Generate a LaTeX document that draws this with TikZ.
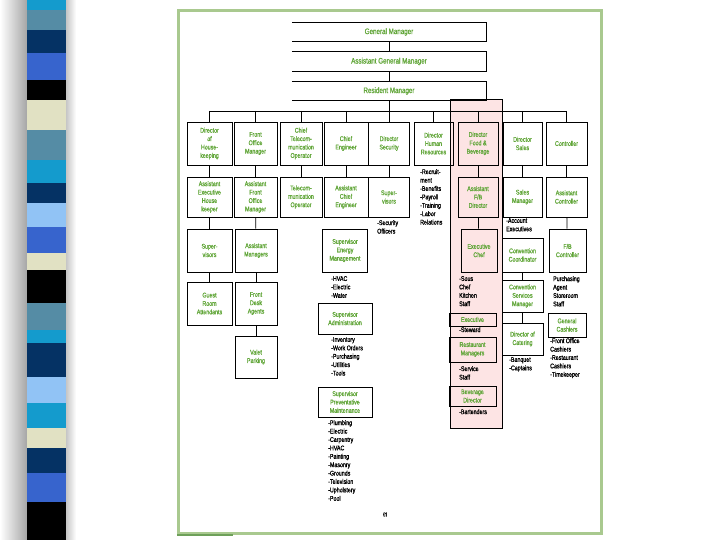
\documentclass[tikz,border=0pt]{standalone}
\usepackage{fontspec}
\newfontfamily\orgfont[FakeStretch=0.78, FakeBold=1.2]{Liberation Sans}
\usetikzlibrary{calc}
\definecolor{boxgreen}{RGB}{98,166,58}
\definecolor{framegreen}{RGB}{169,201,143}
\definecolor{darkframe}{RGB}{110,160,90}
\definecolor{fbpink}{RGB}{253,228,228}
\definecolor{sCyan}{RGB}{20,155,205}
\definecolor{sSteel}{RGB}{85,140,165}
\definecolor{sNavy}{RGB}{5,50,100}
\definecolor{sRoyal}{RGB}{55,100,205}
\definecolor{sCream}{RGB}{225,225,195}
\definecolor{sLight}{RGB}{145,195,245}

\begin{document}
\begin{tikzpicture}[
    x=1pt, y=-1pt,
    post/.style={draw, line width=0.9pt, text=boxgreen, align=center, inner sep=1pt,
                 font=\orgfont\fontsize{6.8}{8.4}\selectfont},
    toppost/.style={text=boxgreen, inner sep=1pt, font=\orgfont\fontsize{8}{9}\selectfont},
    duties/.style={anchor=north west, align=left, inner sep=0pt,
                   font=\orgfont\fontsize{6.8}{8.4}\selectfont},
    link/.style={line width=0.8pt}
]
\useasboundingbox (0,0) rectangle (720,540);

% side strip of the slide
\shade[left color=white, right color=gray!70] (0,0) rectangle (27,540);
\shade[left color=gray!45, right color=white] (66,0) rectangle (76,540);
\foreach \ya/\yb/\c in {0/10/sCyan, 10/30/sSteel, 30/53/sNavy, 53/80/sRoyal, 80/100/black,
    100/130/sCream, 130/160/sSteel, 160/183/sCyan, 183/203/sNavy, 203/227/sLight,
    227/253/sRoyal, 253/270/sCream, 270/303/black, 303/330/sSteel, 330/343/sCyan,
    343/377/sNavy, 377/403/sLight, 403/428/sCyan, 428/448/sCream, 448/473/sNavy,
    473/502/sRoyal, 502/540/black}
  \fill[\c] (27,\ya) rectangle (66,\yb);

\draw[framegreen, line width=3pt] (178,11) rectangle (601,533);
\draw[darkframe, line width=1.2pt] (177,535) -- (233,535);

% food & beverage column
\draw[fill=fbpink, line width=0.9pt] (450,99) rectangle (502,428);

% top management (boxes open on the left)
\node[toppost, minimum width=194pt, minimum height=18pt] (gm) at (389,32) {General Manager};
\node[toppost, minimum width=194pt, minimum height=19pt] (agm) at (389,61.5) {Assistant General Manager};
\node[toppost, minimum width=194pt, minimum height=18pt] (rm) at (389,91) {Resident Manager};
\foreach \n in {gm,agm,rm}
  \draw[line width=0.9pt] (\n.north west) -- (\n.north east) -- (\n.south east) -- (\n.south west);

% department heads
\node[post, minimum width=45pt, minimum height=43pt] (hk) at (209.5,143.5) {Director\\of\\House-\\keeping};
\node[post, minimum width=43pt, minimum height=43pt] (fom) at (255.5,143.5) {Front\\Office\\Manager};
\node[post, minimum width=42pt, minimum height=43pt] (cto) at (301,143.5) {Chief\\Telecom-\\munication\\Operator};
\node[post, minimum width=44pt, minimum height=43pt] (ce) at (346,143.5) {Chief\\Engineer};
\node[post, minimum width=41pt, minimum height=43pt] (ds) at (389,143.5) {Director\\Security};
\node[post, minimum width=39pt, minimum height=43pt] (hr) at (433.5,143.5) {Director\\Human\\Resources};
\node[post, minimum width=40pt, minimum height=43pt] (fb) at (478,143.5) {Director\\Food \&\\Beverage};
\node[post, minimum width=39pt, minimum height=43pt] (sales) at (522.5,143.5) {Director\\Sales};
\node[post, minimum width=41pt, minimum height=43pt] (ctrl) at (566.5,143.5) {Controller};

% assistants
\node[post, minimum width=45pt, minimum height=40pt] (aeh) at (209.5,197) {Assistant\\Executive\\House\\keeper};
\node[post, minimum width=43pt, minimum height=40pt] (afom) at (255.5,197) {Assistant\\Front\\Office\\Manager};
\node[post, minimum width=42pt, minimum height=40pt] (tele) at (301,197) {Telecom-\\munication\\Operator};
\node[post, minimum width=44pt, minimum height=40pt] (ace) at (346,197) {Assistant\\Chief\\Engineer};
\node[post, minimum width=41pt, minimum height=40pt] (sup) at (389,197) {Super-\\visors};
\node[post, minimum width=40pt, minimum height=40pt] (afb) at (478,197) {Assistant\\F/B\\Director};
\node[post, minimum width=39pt, minimum height=40pt] (sm) at (522.5,197) {Sales\\Manager};
\node[post, minimum width=41pt, minimum height=40pt] (actrl) at (566.5,197) {Assistant\\Controller};

% third level
\node[post, minimum width=45pt, minimum height=43pt] (hsup) at (209.5,250.5) {Super-\\visors};
\node[post, minimum width=42pt, minimum height=43pt] (am) at (256,250.5) {Assistant\\Managers};
\node[post, minimum width=45pt, minimum height=43pt] (sem) at (345,250.5) {Supervisor\\Energy\\Management};
\node[post, minimum width=36pt, minimum height=43pt] (ec) at (479,250.5) {Executive\\Chef};
\node[post, minimum width=41pt, minimum height=34pt] (ccoord) at (522.5,255) {Convention\\Coordinator};
\node[post, minimum width=37pt, minimum height=43pt] (fbc) at (567.5,250.5) {F/B\\Controller};

% lower level
\node[post, minimum width=45pt, minimum height=43pt] (gra) at (209.5,303.5) {Guest\\Room\\Attendants};
\node[post, minimum width=42pt, minimum height=43pt] (fda) at (256,303.5) {Front\\Desk\\Agents};
\node[post, minimum width=42pt, minimum height=42pt] (valet) at (256,357) {Valet\\Parking};
\node[post, minimum width=54pt, minimum height=31pt] (sadm) at (345,318.5) {Supervisor\\Administration};
\node[post, minimum width=54pt, minimum height=30pt] (spm) at (345,402) {Supervisor\\Preventative\\Maintenance};
\node[post, minimum width=41pt, minimum height=32pt] (csm) at (522.5,296) {Convention\\Services\\Manager};
\node[post, minimum width=41pt, minimum height=32pt] (doc) at (522.5,339) {Director of\\Catering};
\node[post, minimum width=47pt, minimum height=13pt] (exst) at (472.5,319.5) {Executive};
\node[post, minimum width=47pt, minimum height=25pt] (rmgr) at (472.5,349.5) {Restaurant\\Managers};
\node[post, minimum width=47pt, minimum height=20pt] (bevd) at (472.5,396) {Beverage\\Director};
\node[post, minimum width=38pt, minimum height=24pt] (gc) at (567,325) {General\\Cashiers};

% duty lists
\node[duties] (hrlist) at (420,169) {-Recruit-\\ment\\-Benefits\\-Payroll\\-Training\\-Labor\\Relations};
\node[duties] (seclist) at (377,220) {-Security\\Officers};
\node[duties] (saleslist) at (506,218) {-Account\\Executives};
\node[duties] (semlist) at (331,276) {-HVAC\\-Electric\\-Water};
\node[duties] (admlist) at (331,337) {-Inventory\\-Work Orders\\-Purchasing\\-Utilities\\-Tools};
\node[duties] (pmlist) at (328,420) {-Plumbing\\-Electric\\-Carpentry\\-HVAC\\-Painting\\-Masonry\\-Grounds\\-Television\\-Upholstery\\-Pool};
\node[duties] (chefl) at (459,276) {-Sous\\Chef\\Kitchen\\Staff};
\node[duties] (stewl) at (459,327) {-Steward};
\node[duties] (servl) at (459,366) {-Service\\Staff};
\node[duties] (barl) at (459,409) {-Bartenders};
\node[duties] (catl) at (509,357) {-Banquet\\-Captains};
\node[duties] (fbcl) at (553,276) {Purchasing\\Agent\\Storeroom\\Staff};
\node[duties] (gcl) at (550,338) {-Front Office\\Cashiers\\-Restaurant\\Cashiers\\-Timekeeper};
\node[duties, font=\orgfont\fontsize{5}{6}\selectfont] (pg) at (383,512) {(r)};

% connectors
\coordinate (bus) at (389,111);
\draw[link] (gm) -- (agm);
\draw[link] (agm) -- (rm);
\draw[link] (rm) -- (ds);
\draw[link] (hk.north |- bus) -- (ctrl.north |- bus);
\foreach \n in {hk,fom,cto,ce,hr,fb,sales,ctrl}
  \draw[link] (\n.north |- bus) -- (\n.north);
\foreach \a/\b in {hk/aeh, fom/afom, cto/tele, ce/ace, ds/sup, fb/afb, sales/sm, ctrl/actrl,
    aeh/hsup, afom/am, afb/ec, actrl/fbc, hsup/gra, am/fda, fda/valet, ccoord/csm, csm/doc}
  \draw[link] (\a) -- (\b);
\end{tikzpicture}
\end{document}
